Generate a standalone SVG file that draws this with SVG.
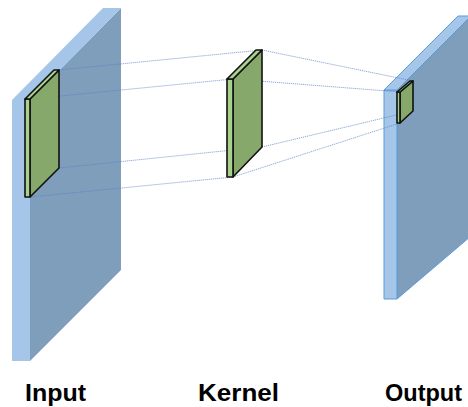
<svg xmlns="http://www.w3.org/2000/svg" width="468" height="407" viewBox="0 0 468 407">
<style>
.face{fill:#7f9ebb}
.side{fill:#a6c6e9}
.outp .face,.outp .side{stroke:#5b9bd5;stroke-width:1;stroke-linejoin:round}
.kf{fill:#87a86b;stroke:#111;stroke-width:1.6;stroke-linejoin:round}
.ks{fill:#a9d18e;stroke:#111;stroke-width:1.6;stroke-linejoin:round}
.conn line{stroke:#5a7fc8;stroke-width:0.8;stroke-dasharray:1.2 0.8;opacity:0.85}
.lbl{font-family:"Liberation Sans",Arial,sans-serif;font-weight:bold;font-size:24px;fill:#000}
</style>
<rect width="468" height="407" fill="#fff"/>
<g id="input-plane">
<polygon class="face" points="30,100 121,8 121,270 30,361"/>
<polygon class="side" points="12,100 30,100 30,361 12,361"/>
<polygon class="side" points="12,100 103,8 121,8 30,100"/>
</g>
<g id="output-plane" class="outp">
<polygon class="face" points="397,90 471,16 471,236 397,299"/>
<polygon class="side" points="384,90 397,90 397,299 384,299"/>
<polygon class="side" points="384,90 458,16 471,16 397,90"/>
</g>
<g id="connectors" class="conn">
<line x1="59" y1="70" x2="262" y2="50"/>
<line x1="30" y1="99" x2="233" y2="79"/>
<line x1="59" y1="168" x2="262" y2="147"/>
<line x1="30" y1="197" x2="233" y2="177"/>
<line x1="262" y1="50" x2="413" y2="81"/>
<line x1="233" y1="79" x2="400" y2="92"/>
<line x1="262" y1="147" x2="413" y2="111"/>
<line x1="233" y1="177" x2="400" y2="123"/>
</g>
<g id="input-kernel">
<polygon class="kf" points="30,99 59,70 59,168 30,197"/>
<polygon class="ks" points="25,99 30,99 30,197 25,197"/>
<polygon class="ks" points="25,99 54,70 59,70 30,99"/>
</g>
<g id="kernel">
<polygon class="kf" points="233,79 262,50 262,147 233,177"/>
<polygon class="ks" points="227,79 233,79 233,177 227,177"/>
<polygon class="ks" points="227,79 256,50 262,50 233,79"/>
</g>
<g id="output-kernel">
<polygon class="kf" points="400,92 413,81 413,111 400,123"/>
<polygon class="ks" points="397,92 400,92 400,123 397,123"/>
<polygon class="ks" points="397,92 410,81 413,81 400,92"/>
</g>
<g id="labels">
<text class="lbl" x="25" y="401" textLength="61" lengthAdjust="spacingAndGlyphs">Input</text>
<text class="lbl" x="198" y="401" textLength="81" lengthAdjust="spacingAndGlyphs">Kernel</text>
<text class="lbl" x="385" y="401" textLength="77" lengthAdjust="spacingAndGlyphs">Output</text>
</g>
</svg>
